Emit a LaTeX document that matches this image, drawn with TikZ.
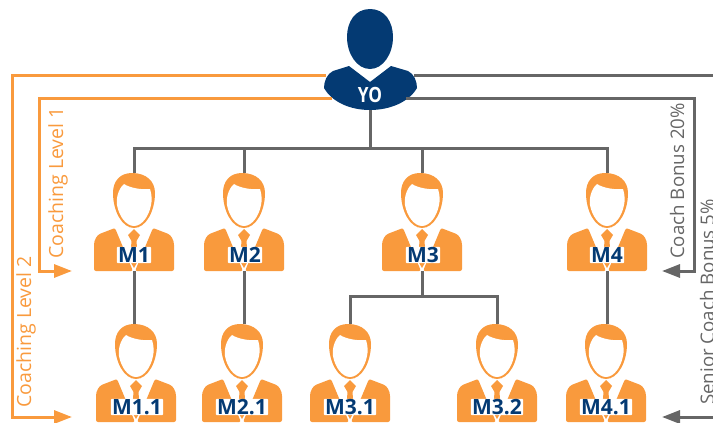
\documentclass[tikz,border=0pt]{standalone}
\usepackage{fontspec}
\setmainfont{Open Sans}
\usetikzlibrary{arrows.meta}
\definecolor{coachorange}{HTML}{F99A3D}
\definecolor{coachgray}{HTML}{666666}
\definecolor{coachnavy}{HTML}{043A73}

\tikzset{
  grayline/.style={draw=coachgray, line width=3pt},
  orangeline/.style={draw=coachorange, line width=3pt},
  grayarrow/.style={grayline, -{Triangle[length=18pt,width=13pt]}},
  orangearrow/.style={orangeline, -{Triangle[length=18pt,width=13pt]}},
  orangetext/.style={text=coachorange, font=\fontsize{19.5}{21}\selectfont, rotate=90, inner sep=0pt},
  graytext/.style={text=coachgray, font=\fontsize{18.7}{21}\selectfont, rotate=90, inner sep=0pt},
  manager/.pic={
    % hair and head
    \fill[coachorange] (-2,0) .. controls (-14,0) and (-21,8) .. (-21,20)
      .. controls (-21,38) and (-12,55) .. (0,55)
      .. controls (12,55) and (21,38) .. (21,20)
      .. controls (21,8) and (12,0) .. (-2,0) -- cycle;
    \fill[white] (-10,11) .. controls (-4,15) and (8,17) .. (16,16)
      .. controls (18,22) and (18,28) .. (17,32)
      .. controls (15,43) and (8,53) .. (0,53)
      .. controls (-8,53) and (-15,43) .. (-17,32)
      .. controls (-18,26) and (-16,16) .. (-10,11) -- cycle;
    % body
    \fill[coachorange, rounded corners=2pt] (-19,55) -- (-32,60) .. controls (-37,62) and (-40,67) .. (-40,74)
      -- (-40,98) -- (-1,98) -- cycle;
    \fill[coachorange, rounded corners=2pt] (19,55) -- (32,60) .. controls (37,62) and (40,67) .. (40,74)
      -- (40,98) -- (1,98) -- cycle;
    % tie
    \fill[coachorange] (0,56) -- (6,62) -- (2.5,68) -- (4,88) -- (0,95) -- (-4,88) -- (-2.5,68) -- (-6,62) -- cycle;
    \coordinate (-label) at (#1);
    \coordinate (-top) at (0,0);
    \coordinate (-bot) at (0,98);
  },
  managerlabel/.style={text=coachnavy, fill=white, rounded corners=1pt, font=\fontsize{21}{22}\selectfont\bfseries, inner xsep=1.2pt, inner ysep=1.2pt, text height=14pt, text depth=0pt},
}

\begin{document}
\begin{tikzpicture}[x=1pt, y=-1pt]
\useasboundingbox (0,0) rectangle (713,423);

% top person
\fill[coachnavy] (370,9) .. controls (355,9) and (347,22) .. (347,37)
  .. controls (347,54) and (357,69) .. (370,69)
  .. controls (383,69) and (393,54) .. (393,37)
  .. controls (393,22) and (385,9) .. (370,9) -- cycle;
\fill[coachnavy] (349,66) -- (333,71) .. controls (327,74) and (324,81) .. (324,88)
  .. controls (332,102) and (350,110) .. (370,110)
  .. controls (390,110) and (409,102) .. (417,88)
  .. controls (417,81) and (414,74) .. (408,71) -- (391,66) -- (370,82) -- cycle;
\node (yo) [text=white, font=\fontsize{21}{22}\selectfont\bfseries, xscale=.82, inner sep=0pt] at (370,95) {YO};
\coordinate (yoBot) at (370,110);
\coordinate (yoUpL) at (326,75);
\coordinate (yoLowL) at (332,98);
\coordinate (yoUpR) at (414,75);
\coordinate (yoLowR) at (406,98);

% managers
\pic (m1) at (134,173) {manager={0,82}};
\pic (m2) at (244,173) {manager={1,82}};
\pic (m3) at (422,173) {manager={1,82}};
\pic (m4) at (607,173) {manager={0,82}};
\pic (m11) at (136,324) {manager={1,83}};
\pic (m21) at (242,324) {manager={0,83}};
\pic (m31) at (350,324) {manager={0,83}};
\pic (m32) at (497,324) {manager={0,83}};
\pic (m41) at (606,324) {manager={0,83}};

% free ends
\coordinate (jointop) at (370,148);
\coordinate (joinm3) at (422,296);
\coordinate (cornerL1) at (39,98);
\coordinate (cornerL2) at (12,75);
\coordinate (endL1) at (72,271);
\coordinate (endL2) at (72,417);
\coordinate (cornerR1) at (694,98);
\coordinate (endR1) at (662,271);
\coordinate (endR2) at (662,417);
\coordinate (edgeR1) at (713,75);
\coordinate (edgeR2) at (713,417);

% tree
\draw[grayline] (yoBot) -- (jointop);
\draw[grayline] (m1-top) |- (jointop);
\draw[grayline] (m2-top) |- (jointop);
\draw[grayline] (m3-top) |- (jointop);
\draw[grayline] (m4-top) |- (jointop);
\draw[grayline] (m1-bot) -- (m1-bot |- m11-top);
\draw[grayline] (m2-bot) -- (m2-bot |- m21-top);
\draw[grayline] (m3-bot) -- (joinm3);
\draw[grayline] (m31-top) |- (joinm3);
\draw[grayline] (m32-top) |- (joinm3);
\draw[grayline] (m4-bot) -- (m4-bot |- m41-top);

% coaching lines
\draw[orangearrow] (yoLowL) -| (cornerL1) |- (endL1);
\draw[orangearrow] (yoUpL) -| (cornerL2) |- (endL2);
\draw[grayarrow] (yoLowR) -| (cornerR1) |- (endR1);
\draw[grayline] (yoUpR) -- (edgeR1);
\draw[grayarrow] (edgeR2) -- (endR2);

% labels
\node (m1t) [managerlabel] at (m1-label) {M1};
\node (m2t) [managerlabel] at (m2-label) {M2};
\node (m3t) [managerlabel] at (m3-label) {M3};
\node (m4t) [managerlabel] at (m4-label) {M4};
\node (m11t) [managerlabel] at (m11-label) {M1.1};
\node (m21t) [managerlabel] at (m21-label) {M2.1};
\node (m31t) [managerlabel] at (m31-label) {M3.1};
\node (m32t) [managerlabel] at (m32-label) {M3.2};
\node (m41t) [managerlabel] at (m41-label) {M4.1};

\node (level1) [orangetext] at (58,183) {Coaching Level 1};
\node (level2) [orangetext] at (26,332) {Coaching Level 2};
\node (bonus1) [graytext] at (677,181) {Coach Bonus 20\%};
\node (bonus2) [graytext] at (707,302) {Senior Coach Bonus 5\%};
\end{tikzpicture}
\end{document}
